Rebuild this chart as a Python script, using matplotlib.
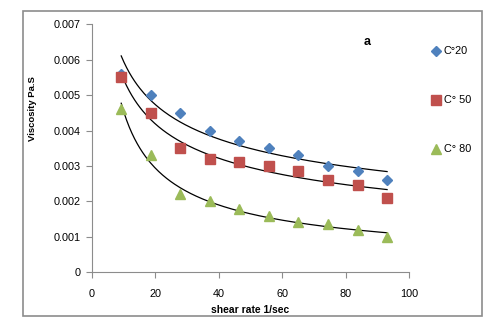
import numpy as np
import matplotlib.pyplot as plt
from matplotlib.patches import Rectangle

plt.rcParams["font.family"] = ["Liberation Sans", "DejaVu Sans"]

# shear rate (1/sec) and viscosity (Pa.S) at three temperatures
shear_rate = [9.3, 18.6, 27.9, 37.2, 46.5, 55.8, 65.1, 74.4, 83.7, 93.0]
visc_20 = [0.0056, 0.0050, 0.0045, 0.0040, 0.0037, 0.0035, 0.0033, 0.0030, 0.00285, 0.0026]
visc_50 = [0.0055, 0.0045, 0.0035, 0.0032, 0.0031, 0.0030, 0.00285, 0.0026, 0.00245, 0.0021]
visc_80 = [0.0046, 0.0033, 0.0022, 0.0020, 0.0018, 0.0016, 0.00142, 0.00135, 0.0012, 0.0010]
labels = ["C°20", "C° 50", "C° 80"]

x_ticks = [0, 20, 40, 60, 80, 100]
y_ticks = [0, 0.001, 0.002, 0.003, 0.004, 0.005, 0.006, 0.007]

series = [
    (visc_20, "D", "#4F81BD", 5.5),
    (visc_50, "s", "#C0504D", 6.5),
    (visc_80, "^", "#9BBB59", 7),
]

fig = plt.figure(figsize=(5.01, 3.36), dpi=100)
fig.patches.append(Rectangle((0.046, 0.0595), 0.916, 0.9075, transform=fig.transFigure,
                             fill=False, edgecolor="#8c8c8c", linewidth=1.2))
ax = fig.add_axes([0.183, 0.1896, 0.634, 0.7381])

x = np.array(shear_rate)
xs = np.linspace(x.min(), x.max(), 200)
handles = []
for (vals, marker, color, size), label in zip(series, labels):
    h, = ax.plot(x, vals, linestyle="none", marker=marker, color=color,
                 markersize=size, label=label, zorder=3)
    handles.append(h)
    # power-law trend line
    b, lna = np.polyfit(np.log(x), np.log(vals), 1)
    ax.plot(xs, np.exp(lna) * xs ** b, color="black", linewidth=0.9, zorder=2)

ax.set_xlim(0, 100)
ax.set_ylim(0, 0.007)
ax.set_xticks(x_ticks)
ax.set_yticks(y_ticks)
ax.set_yticklabels(["0", "0.001", "0.002", "0.003", "0.004", "0.005", "0.006", "0.007"])
for side in ["top", "right"]:
    ax.spines[side].set_visible(False)
for side in ["left", "bottom"]:
    ax.spines[side].set_color("#8c8c8c")
ax.tick_params(colors="#8c8c8c", labelcolor="black", labelsize=7.8, length=4, pad=4)
ax.tick_params(axis="x", pad=8)

ax.set_xlabel("shear rate 1/sec", fontsize=7.4, fontweight="bold", labelpad=4)
ax.set_ylabel("Viscosity Pa.S", fontsize=6.8, fontweight="bold")
ax.yaxis.set_label_coords(-0.172, 0.659)
ax.text(0.866, 0.929, "a", transform=ax.transAxes, fontsize=9, fontweight="bold",
        ha="center", va="center")

fig.legend(handles=handles, loc="upper left", bbox_to_anchor=(0.855, 0.875),
           frameon=False, fontsize=7.8, labelspacing=3.6, handlelength=0.7,
           handletextpad=0.3, borderaxespad=0)

fig.savefig("out.png", dpi=100)
